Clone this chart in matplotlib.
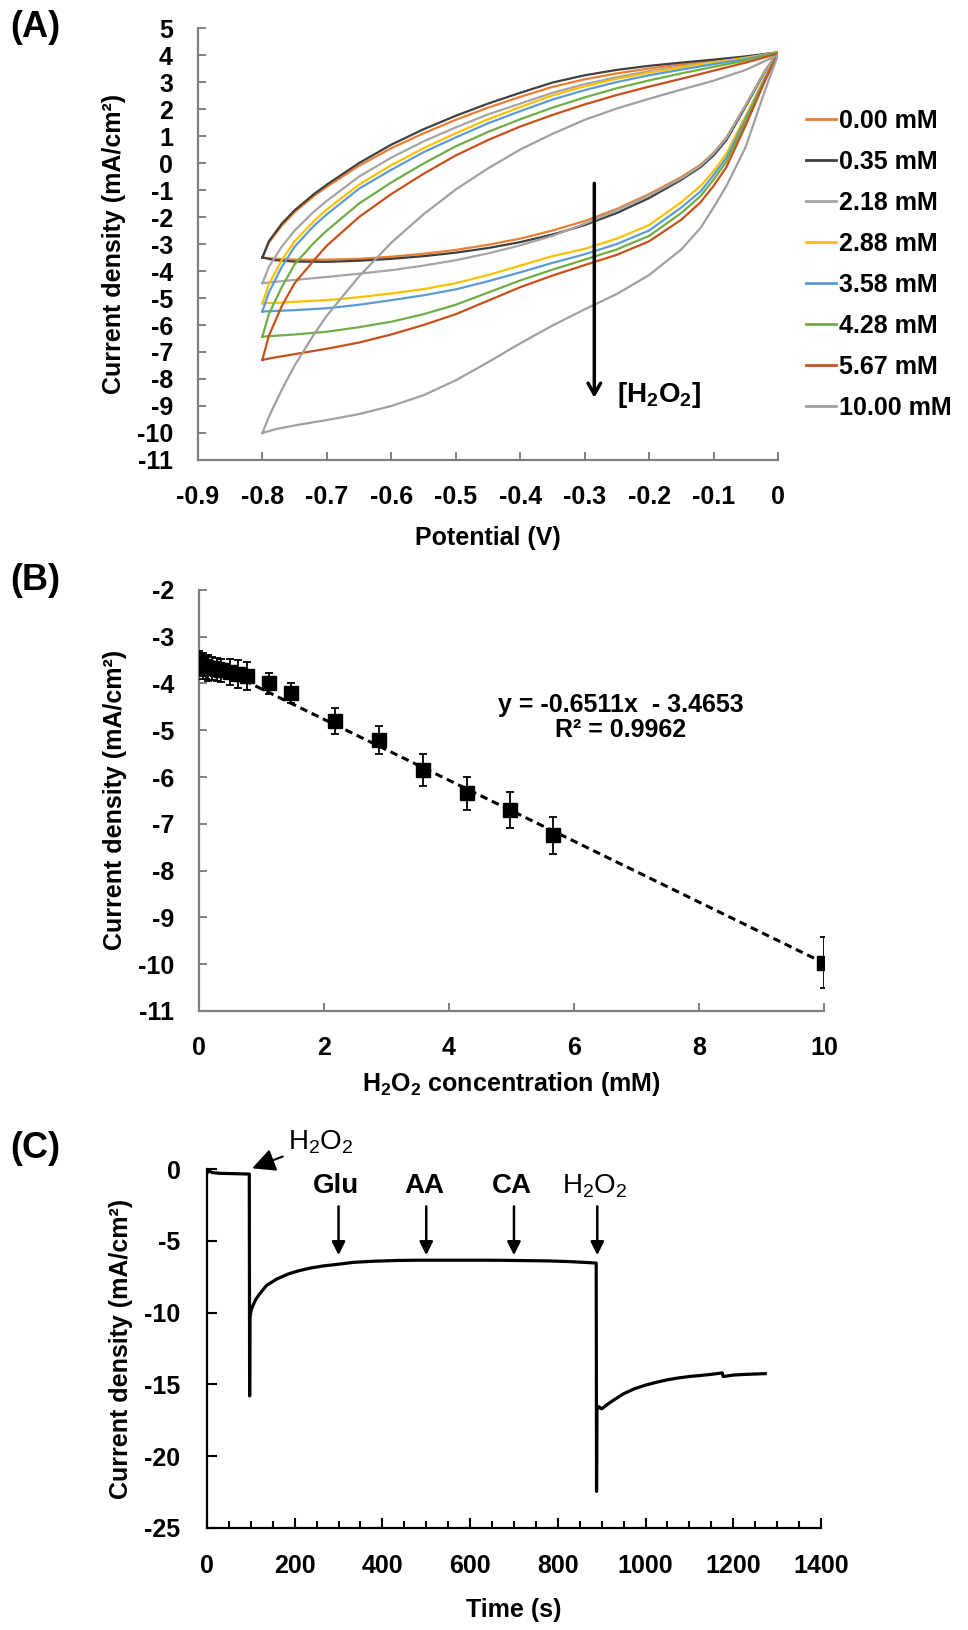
import matplotlib
matplotlib.use('Agg')
import matplotlib.pyplot as plt
from matplotlib.lines import Line2D

plt.rcParams['font.family'] = ['Liberation Sans', 'DejaVu Sans']
plt.rcParams['font.weight'] = 'bold'
plt.rcParams['axes.labelweight'] = 'bold'
plt.rcParams['axes.unicode_minus'] = False
plt.rcParams['mathtext.default'] = 'regular'

# ---------------- (A) cyclic voltammograms ----------------
conc_labels = ['0.00 mM', '0.35 mM', '2.18 mM', '2.88 mM',
               '3.58 mM', '4.28 mM', '5.67 mM', '10.00 mM']
cv_colors = ['#ED7D31', '#404040', '#A5A5A5', '#FFC000',
             '#5B9BD5', '#70AD47', '#C8501A', '#A0A0A0']

# anodic sweep (-0.8 -> 0 V)
v_up = [-0.8, -0.79, -0.77, -0.75, -0.72, -0.7, -0.65, -0.6, -0.55, -0.5,
        -0.45, -0.4, -0.35, -0.3, -0.25, -0.2, -0.15, -0.1, -0.05, 0.0]
up_000 = [-3.5, -2.95, -2.32, -1.82, -1.22, -0.88, -0.1, 0.55, 1.1, 1.6,
          2.05, 2.45, 2.82, 3.1, 3.32, 3.5, 3.65, 3.78, 3.92, 4.1]
up_035 = [-3.5, -2.9, -2.25, -1.75, -1.15, -0.8, 0.0, 0.68, 1.25, 1.75,
          2.2, 2.6, 2.98, 3.25, 3.45, 3.6, 3.72, 3.83, 3.95, 4.1]
up_218 = [-4.45, -3.85, -3.1, -2.5, -1.8, -1.4, -0.5, 0.2, 0.8, 1.32,
          1.8, 2.2, 2.6, 2.92, 3.18, 3.4, 3.58, 3.74, 3.9, 4.1]
up_288 = [-5.2, -4.5, -3.6, -2.9, -2.15, -1.72, -0.8, -0.08, 0.55, 1.1,
          1.62, 2.07, 2.5, 2.84, 3.12, 3.35, 3.54, 3.72, 3.88, 4.1]
up_358 = [-5.5, -4.8, -3.85, -3.1, -2.32, -1.9, -0.95, -0.25, 0.4, 0.95,
          1.47, 1.92, 2.35, 2.7, 3.0, 3.25, 3.46, 3.66, 3.85, 4.1]
up_428 = [-6.43, -5.6, -4.6, -3.75, -2.95, -2.5, -1.5, -0.72, -0.02, 0.62,
          1.15, 1.62, 2.05, 2.43, 2.77, 3.06, 3.32, 3.56, 3.8, 4.1]
up_567 = [-7.29, -6.4, -5.3, -4.45, -3.6, -3.06, -2.0, -1.15, -0.4, 0.28,
          0.85, 1.35, 1.78, 2.17, 2.52, 2.83, 3.12, 3.42, 3.72, 4.05]
up_1000 = [-10.0, -9.4, -8.4, -7.5, -6.35, -5.65, -4.2, -2.95, -1.9, -0.98,
           -0.2, 0.5, 1.08, 1.6, 2.02, 2.38, 2.72, 3.05, 3.45, 4.0]

# cathodic sweep (0 -> -0.8 V)
v_dn = [0.0, -0.02, -0.05, -0.08, -0.1, -0.12, -0.15, -0.2, -0.25, -0.3,
        -0.35, -0.4, -0.45, -0.5, -0.55, -0.6, -0.65, -0.7, -0.75, -0.78, -0.8]
dn_000 = [4.1, 3.42, 2.15, 0.95, 0.38, -0.06, -0.52, -1.15, -1.7, -2.15,
          -2.5, -2.8, -3.03, -3.22, -3.36, -3.47, -3.55, -3.58, -3.58, -3.55, -3.5]
dn_035 = [4.1, 3.4, 2.1, 0.85, 0.28, -0.15, -0.62, -1.3, -1.85, -2.3,
          -2.65, -2.93, -3.15, -3.32, -3.45, -3.55, -3.62, -3.66, -3.65, -3.6, -3.5]
dn_218 = [4.1, 3.42, 2.15, 0.92, 0.35, -0.1, -0.57, -1.2, -1.75, -2.25,
          -2.7, -3.05, -3.35, -3.6, -3.8, -3.97, -4.1, -4.22, -4.33, -4.4, -4.45]
dn_288 = [4.1, 3.2, 1.75, 0.35, -0.3, -0.85, -1.45, -2.3, -2.8, -3.18,
          -3.45, -3.8, -4.15, -4.45, -4.67, -4.83, -4.97, -5.08, -5.14, -5.18, -5.2]
dn_358 = [4.1, 3.15, 1.65, 0.2, -0.45, -1.05, -1.65, -2.5, -3.0, -3.38,
          -3.7, -4.05, -4.38, -4.68, -4.9, -5.08, -5.25, -5.38, -5.45, -5.48, -5.5]
dn_428 = [4.1, 3.1, 1.55, 0.05, -0.62, -1.22, -1.85, -2.7, -3.2, -3.58,
          -3.95, -4.35, -4.8, -5.25, -5.6, -5.88, -6.08, -6.25, -6.35, -6.4, -6.43]
dn_567 = [4.05, 3.05, 1.4, -0.15, -0.85, -1.45, -2.1, -2.9, -3.4, -3.78,
          -4.17, -4.6, -5.1, -5.6, -6.0, -6.35, -6.65, -6.88, -7.08, -7.2, -7.29]
dn_1000 = [4.0, 2.7, 0.6, -0.85, -1.65, -2.4, -3.2, -4.15, -4.85, -5.42,
           -6.02, -6.68, -7.38, -8.05, -8.6, -9.0, -9.3, -9.52, -9.72, -9.86, -10.0]

ups = [up_000, up_035, up_218, up_288, up_358, up_428, up_567, up_1000]
dns = [dn_000, dn_035, dn_218, dn_288, dn_358, dn_428, dn_567, dn_1000]

# ---------------- (B) calibration ----------------
conc = [0, 0.035, 0.07, 0.105, 0.14, 0.21, 0.28, 0.35, 0.49, 0.63, 0.77,
        1.12, 1.47, 2.18, 2.88, 3.58, 4.28, 4.97, 5.67, 10.0]
j_mean = [-3.55, -3.6, -3.62, -3.65, -3.67, -3.68, -3.7, -3.72, -3.75, -3.8,
          -3.85, -4.0, -4.2, -4.8, -5.2, -5.85, -6.35, -6.7, -7.25, -9.97]
j_err = [0.25, 0.25, 0.28, 0.25, 0.27, 0.25, 0.25, 0.25, 0.28, 0.3, 0.3,
         0.23, 0.22, 0.27, 0.3, 0.34, 0.35, 0.38, 0.4, 0.55]
slope, intercept = -0.6511, -3.4653
fit_x = [0, 10]

# ---------------- (C) amperometric response ----------------
t_s = [0, 4, 12, 30, 60, 96.5, 97.3, 98, 101, 105, 111, 120, 136, 160, 186,
       210, 235, 265, 294, 334, 380, 433, 480, 532, 580, 631, 680, 729, 780,
       828, 860, 887.5, 888.3, 889.2, 893, 900, 915, 927, 950, 975, 1000,
       1025, 1050, 1075, 1100, 1125, 1150, 1175, 1177, 1185, 1200, 1230, 1273]
j_t = [-0.3, -0.1, -0.25, -0.3, -0.32, -0.35, -15.8, -10.3, -9.8, -9.5,
       -9.1, -8.7, -8.1, -7.65, -7.3, -7.08, -6.9, -6.75, -6.65, -6.5, -6.42,
       -6.37, -6.35, -6.35, -6.35, -6.35, -6.36, -6.38, -6.4, -6.45, -6.5,
       -6.55, -22.45, -16.8, -16.55, -16.7, -16.35, -16.1, -15.65, -15.3,
       -15.05, -14.85, -14.68, -14.55, -14.45, -14.38, -14.3, -14.2, -14.45,
       -14.42, -14.35, -14.3, -14.25]

events = ['Glu', 'AA', 'CA', 'H$_2$O$_2$']
event_t = [300, 500, 700, 890]

fig = plt.figure(figsize=(9.68, 16.30), dpi=100)
gray = '#7F7F7F'
fs = 18

# ---- panel A
axA = fig.add_axes([0.2045, 0.7178, 0.5992, 0.2650])
for v_a, v_b, col in zip(ups, dns, cv_colors):
    axA.plot(v_up + v_dn, v_a + v_b, color=col, lw=1.6)
axA.set_xlim(-0.9, 0)
axA.set_ylim(-11, 5)
axA.set_xticks([-0.9, -0.8, -0.7, -0.6, -0.5, -0.4, -0.3, -0.2, -0.1, 0])
axA.set_xticklabels(['-0.9', '-0.8', '-0.7', '-0.6', '-0.5', '-0.4',
                     '-0.3', '-0.2', '-0.1', '0'])
axA.set_yticks(range(-11, 6))
axA.set_xlabel('Potential (V)', fontsize=fs, labelpad=12)
axA.set_ylabel('Current density (mA/cm²)', fontsize=fs, labelpad=8)
axA.annotate('', xy=(-0.285, -8.8), xytext=(-0.285, -0.65),
             arrowprops=dict(arrowstyle='->,head_length=0.8,head_width=0.45',
                             lw=2.5, color='black'))
axA.text(-0.25, -8.6, '[H$_2$O$_2$]', fontsize=20, fontweight='bold',
         va='center', ha='left')
handles = [Line2D([], [], color=c, lw=2) for c in cv_colors]
fig.legend(handles, conc_labels, loc='upper left',
           bbox_to_anchor=(0.833, 0.9331), frameon=False, fontsize=fs,
           handlelength=1.2, handletextpad=0.12, labelspacing=0.68,
           borderpad=0, borderaxespad=0)

# ---- panel B
axB = fig.add_axes([0.2056, 0.3798, 0.6457, 0.2583])
axB.plot(fit_x, [slope * x + intercept for x in fit_x], color='black',
         lw=2.2, ls=(0, (2.5, 1.6)), zorder=2)
axB.errorbar(conc, j_mean, yerr=j_err, fmt='s', color='black', ms=10,
             capsize=3, elinewidth=1.3, capthick=1.3, zorder=3)
axB.set_xlim(0, 10)
axB.set_ylim(-11, -2)
axB.set_xticks([0, 2, 4, 6, 8, 10])
axB.set_yticks(range(-11, -1))
axB.set_xlabel('H$_2$O$_2$ concentration (mM)', fontsize=fs, labelpad=7)
axB.set_ylabel('Current density (mA/cm²)', fontsize=fs, labelpad=8)
axB.text(6.75, -4.73, 'y = -0.6511x  - 3.4653\nR² = 0.9962', fontsize=fs,
         fontweight='bold', ha='center', va='center', multialignment='center',
         linespacing=1.05)

for ax in (axA, axB):
    for s in ('top', 'right'):
        ax.spines[s].set_visible(False)
    for s in ('left', 'bottom'):
        ax.spines[s].set_color(gray)
        ax.spines[s].set_linewidth(1.6)
    ax.tick_params(direction='in', length=6, width=1.4, color=gray,
                   labelsize=fs, pad=18)

# ---- panel C
axC = fig.add_axes([0.2138, 0.0626, 0.6343, 0.2202])
axC.plot(t_s, j_t, color='black', lw=2.3)
axC.set_xlim(0, 1400)
axC.set_ylim(-25, 0)
axC.set_xticks(range(0, 1401, 200))
axC.set_xticks(range(0, 1401, 50), minor=True)
axC.set_yticks([0, -5, -10, -15, -20, -25])
for s in ('top', 'right'):
    axC.spines[s].set_visible(False)
for s in ('left', 'bottom'):
    axC.spines[s].set_linewidth(1.6)
axC.tick_params(which='major', direction='in', length=7, width=1.5,
                labelsize=fs, pad=19)
axC.tick_params(which='minor', direction='in', length=5, width=1.5)
axC.set_xlabel('Time (s)', fontsize=fs, labelpad=14)
axC.set_ylabel('Current density (mA/cm²)', fontsize=fs, labelpad=8)
axC.annotate('H$_2$O$_2$', xy=(103, 0.05), xytext=(185, 1.9),
             fontsize=20, fontweight='normal', ha='left', va='center',
             annotation_clip=False,
             arrowprops=dict(arrowstyle='-|>,head_length=0.7,head_width=0.35',
                             lw=1.5, color='black', shrinkA=2, shrinkB=0))
for name, tx in zip(events, event_t):
    w = 'normal' if 'H' in name else 'bold'
    axC.text(tx - 5, -1.2, name, fontsize=20, fontweight=w,
             ha='center', va='center')
    axC.annotate('', xy=(tx, -6.0), xytext=(tx, -2.6),
                 arrowprops=dict(arrowstyle='-|>,head_length=0.8,head_width=0.4',
                                 lw=1.8, color='black', shrinkA=0, shrinkB=0))

fig.text(0.036, 0.983, '(A)', fontsize=26, fontweight='bold',
         ha='center', va='center')
fig.text(0.036, 0.6436, '(B)', fontsize=26, fontweight='bold',
         ha='center', va='center')
fig.text(0.036, 0.2957, '(C)', fontsize=26, fontweight='bold',
         ha='center', va='center')

fig.savefig('out.png', dpi=100)
